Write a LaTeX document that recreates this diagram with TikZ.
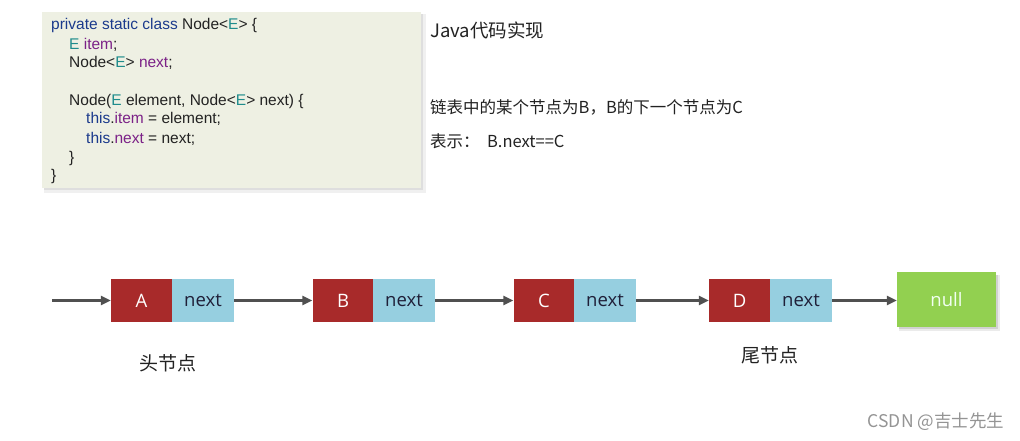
\documentclass[tikz,border=0pt]{standalone}
\usepackage{fontspec}
\setmainfont{Liberation Sans}
\newfontfamily\cjk{Noto Sans CJK SC}
\newfontfamily\cellfont{Open Sans}
\usetikzlibrary{arrows.meta}
\definecolor{kw}{HTML}{1B3A8C}
\definecolor{ty}{HTML}{1F8C8C}
\definecolor{fld}{HTML}{7B2187}
\definecolor{codebg}{HTML}{EEF0E3}
\definecolor{cellred}{HTML}{A82A2A}
\definecolor{cellblue}{HTML}{96CFE0}
\definecolor{cellgreen}{HTML}{92D050}
\definecolor{arrowgray}{HTML}{505050}
\definecolor{txt}{HTML}{222222}
\tikzset{
  codeline/.style={anchor=base west, inner sep=0pt, font=\fontsize{15.5}{17}\selectfont, text=txt},
  note/.style={anchor=west, inner sep=0pt, font=\cjk\fontsize{16.5}{18}\selectfont, text=txt},
  cell/.style={minimum height=43pt, inner sep=0pt, font=\cellfont\fontsize{18.5}{20}\selectfont},
  datacell/.style={cell, fill=cellred, minimum width=61pt, text=white},
  nextcell/.style={cell, fill=cellblue, minimum width=62pt, text=txt!90!blue},
  nullcell/.style={cell, fill=cellgreen, minimum width=99pt, minimum height=55pt, text=white!95!green},
  link/.style={draw=arrowgray, line width=3pt, -{Triangle[length=10pt,width=9pt]}},
  caption/.style={inner sep=0pt, font=\cjk\fontsize{19}{20}\selectfont, text=txt},
}
\begin{document}
\begin{tikzpicture}[x=1pt,y=-1pt]
\useasboundingbox (0,0) rectangle (1020,441);
\fill[white] (0,0) rectangle (1020,441);

% code panel with a soft drop shadow
\fill[black!6] (44,14) rectangle (426,193);
\fill[black!13] (44,14) rectangle (423,190);
\fill[codebg] (42,12) rectangle (421,188);

\node[codeline] (c1) at (51,30) {\textcolor{kw}{private static class} Node<\textcolor{ty}{E}> \{};
\node[codeline] (c2) at (69,50) {\textcolor{ty}{E} \textcolor{fld}{item};};
\node[codeline] (c3) at (69,68) {Node<\textcolor{ty}{E}> \textcolor{fld}{next};};
\node[codeline] (c4) at (69,106) {Node(\textcolor{ty}{E} element, Node<\textcolor{ty}{E}> next) \{};
\node[codeline] (c5) at (86,124) {\textcolor{kw}{this}.\textcolor{fld}{item} = element;};
\node[codeline] (c6) at (86,143) {\textcolor{kw}{this}.\textcolor{fld}{next} = next;};
\node[codeline] (c7) at (69,162) {\}};
\node[codeline] (c8) at (51,180) {\}};

% explanatory notes
\node[note, font=\cjk\fontsize{18.5}{20}\selectfont] (title) at (430,30) {Java代码实现};
\node[note] (desc) at (430,107) {链表中的某个节点为B，B的下一个节点为C};
\node[note] (expr) at (430,141) {表示：\ \ B.next==C};

% linked list cells
\node[datacell] (A) at (141.5,300.5) {A};
\node[nextcell] (An) at (203,300.5) {next};
\node[datacell] (B) at (343,300.5) {B};
\node[nextcell] (Bn) at (404,300.5) {next};
\node[datacell] (C) at (544,300.5) {C};
\node[nextcell] (Cn) at (605,300.5) {next};
\node[datacell] (D) at (739.5,300.5) {D};
\node[nextcell] (Dn) at (801,300.5) {next};
\fill[black!8] (899,275) rectangle (1000,331);
\fill[black!18] (899,275) rectangle (998,329);
\node[nullcell] (N) at (946.5,299.5) {null};

% links between cells
\coordinate (start) at (52,300.5);
\draw[link] (start) -- (A.west);
\draw[link] (An.east) -- (B.west);
\draw[link] (Bn.east) -- (C.west);
\draw[link] (Cn.east) -- (D.west);
\draw[link] (Dn.east) -- (N.west |- Dn.east);

% captions
\node[caption] (head) at (168,363) {头节点};
\node[caption] (tail) at (770,355) {尾节点};

\node[inner sep=0pt, font=\cjk\fontsize{17.5}{19}\selectfont, text=black!42] (mark) at (936,422) {CSDN @吉士先生};
\end{tikzpicture}
\end{document}
